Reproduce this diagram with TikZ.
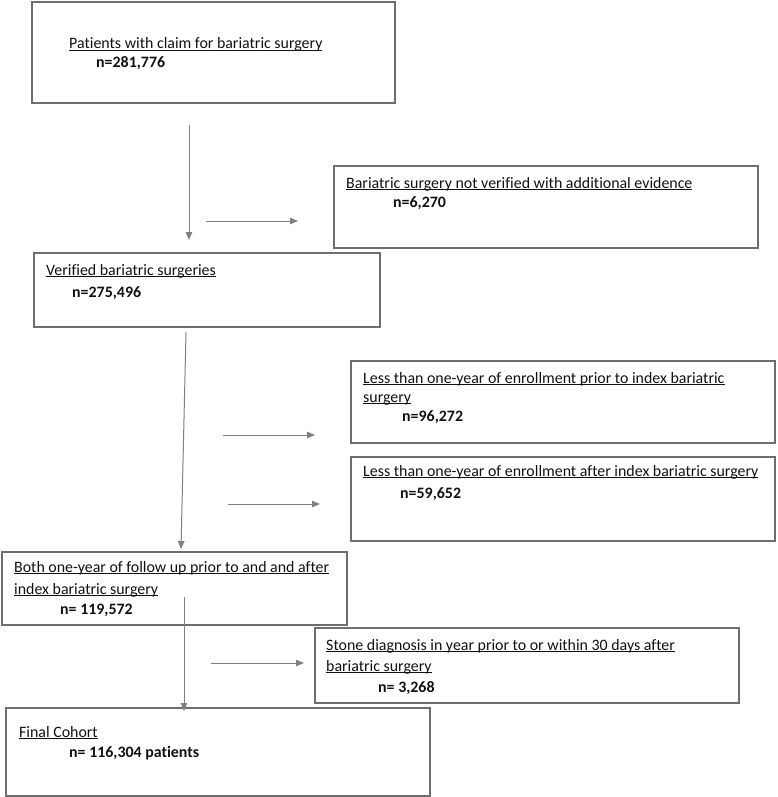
\documentclass[tikz,border=0pt]{standalone}
\usepackage{fontspec}
\setmainfont{Carlito}[Ligatures={NoCommon}]
\usetikzlibrary{arrows.meta}
\definecolor{boxgray}{HTML}{6E6E6E}
\definecolor{arrgray}{HTML}{808080}
\definecolor{txt}{HTML}{111111}
\newcommand\myul[1]{\setbox0\hbox{#1}\rlap{\vrule height -1.4pt depth 2.4pt width \wd0}\box0}
\begin{document}
\begin{tikzpicture}[x=1pt,y=-1pt,
  box/.style={draw=boxgray, line width=1.3pt, anchor=north west, inner sep=0pt, outer sep=0pt},
  lbl/.style={anchor=base west, inner sep=0pt, text=txt, font=\fontsize{15.9}{18}\selectfont},
  num/.style={anchor=base west, inner sep=0pt, text=txt, font=\fontsize{15.9}{18}\selectfont\bfseries},
  arr/.style={draw=arrgray, line width=1pt, -{Triangle[length=8pt,width=6.5pt]}}]
\useasboundingbox (0,0) rectangle (777,797);
% boxes
\node[box, minimum width=363pt, minimum height=101pt] (b1) at (32,2) {};
\node[box, minimum width=424pt, minimum height=82pt] (b2) at (334,166) {};
\node[box, minimum width=346pt, minimum height=74pt] (b3) at (34,253) {};
\node[box, minimum width=424pt, minimum height=82pt] (b4) at (351,361) {};
\node[box, minimum width=424pt, minimum height=84pt] (b5) at (351,457) {};
\node[box, minimum width=345pt, minimum height=73pt] (b6) at (2,552) {};
\node[box, minimum width=424pt, minimum height=75pt] (b7) at (315,628) {};
\node[box, minimum width=424pt, minimum height=88pt] (b8) at (6,708) {};
% texts
\node[lbl] (t1) at (69,49) {\myul{Patients with claim for bariatric surgery}};
\node[num] (n1) at (96,68) {n=281,776};
\node[lbl] (t2) at (346,188) {\myul{Bariatric surgery not verified with additional evidence}};
\node[num] (n2) at (393,207) {n=6,270};
\node[lbl] (t3) at (46,275) {\myul{Verified bariatric surgeries}};
\node[num] (n3) at (72,297) {n=275,496};
\node[lbl] (t4a) at (363,383) {\myul{Less than one-year of enrollment prior to index bariatric}};
\node[lbl] (t4b) at (363,402) {\myul{surgery}};
\node[num] (n4) at (402,421) {n=96,272};
\node[lbl] (t5) at (363,476) {\myul{Less than one-year of enrollment after index bariatric surgery}};
\node[num] (n5) at (400,498) {n=59,652};
\node[lbl] (t6a) at (14,572) {\myul{Both one-year of follow up prior to and and after}};
\node[lbl] (t6b) at (14,594) {\myul{index bariatric surgery}};
\node[num] (n6) at (60,614) {n= 119,572};
\node[lbl] (t7a) at (326,650) {\myul{Stone diagnosis in year prior to or within 30 days after}};
\node[lbl] (t7b) at (326,671) {\myul{bariatric surgery}};
\node[num] (n7) at (378,692) {n= 3,268};
\node[lbl] (t8) at (19,737) {\myul{Final Cohort}};
\node[num] (n8) at (69,757) {n= 116,304 patients};
% arrow ends
\coordinate (a1s) at (189,125); \coordinate (a1e) at (189,240);
\coordinate (a2s) at (206,221); \coordinate (a2e) at (298,221);
\coordinate (a3s) at (186,332); \coordinate (a3e) at (181,549);
\coordinate (a4s) at (223,435); \coordinate (a4e) at (315,435);
\coordinate (a5s) at (228,504); \coordinate (a5e) at (320,504);
\coordinate (a6s) at (184,597); \coordinate (a6e) at (184,711);
\coordinate (a7s) at (211,663); \coordinate (a7e) at (304,663);
\draw[arr] (a1s) -- (a1e);
\draw[arr] (a2s) -- (a2e);
\draw[arr] (a3s) -- (a3e);
\draw[arr] (a4s) -- (a4e);
\draw[arr] (a5s) -- (a5e);
\draw[arr] (a6s) -- (a6e);
\draw[arr] (a7s) -- (a7e);
\end{tikzpicture}
\end{document}
